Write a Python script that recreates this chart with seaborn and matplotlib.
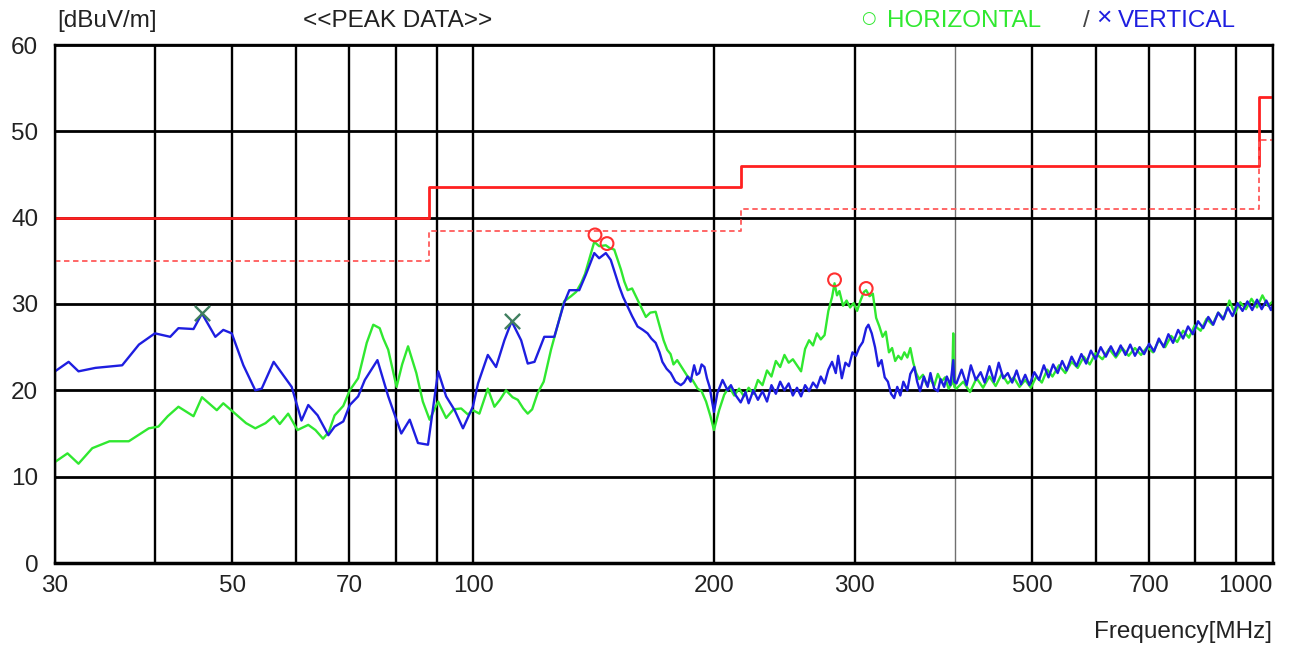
import numpy as np
import pandas as pd
import seaborn as sns
import matplotlib
matplotlib.use("Agg")
import matplotlib.pyplot as plt
from matplotlib.ticker import FixedLocator, NullLocator

# --- values ---
horiz_freq = [30, 31.1, 32.1, 33.4, 35.1, 37.1, 39.3, 40.4, 41.5, 42.8, 44.7, 45.8, 47.8, 48.7, 50.4, 52.0, 53.4, 55.0,
              56.3, 57.3, 58.7, 60.3, 62.2, 63.5, 64.9, 66.0, 67.1, 68.8, 70.1, 71.8, 73.6, 75.0, 76.4, 77.2, 78.3, 80.2,
              81.5, 82.9, 84.9, 86.5, 88.2, 90.4, 92.5, 94.5, 96.6, 98.5, 99.9, 101.8, 104.3, 106.3, 108.0, 109.9, 112.0,
              113.7, 115.5, 117.0, 118.5, 120.4, 122.5, 125.1, 127.5, 129.9, 132.5, 134.5, 136.4, 138.0, 139.6, 141.7,
              143.7, 146.5, 148.0, 150.1, 151.5, 153.0, 154.5, 156.0, 158.0, 160.5, 162.5, 164.4, 166.5, 169.1, 171.6,
              173.0, 174.8, 176.5, 178.0, 179.9, 182.5, 185.4, 188.0, 190.8, 193.0, 195.5, 198.0, 200,
              203, 206, 209, 212, 215, 218, 221, 224, 227, 230, 233, 236, 239, 242, 245, 248, 251, 254, 257, 260, 263,
              266, 269, 272, 275, 278, 281, 283, 285, 287, 290, 293, 296, 299, 302, 305, 308, 310, 313, 316, 319, 322,
              325, 328, 331, 334, 337, 340, 343, 346, 349, 352, 355, 358, 361, 365, 369, 373, 377, 381, 385, 389, 393,
              397, 398.3, 399.5,
              402, 410, 418, 426, 434, 442, 450, 458, 466, 474, 482, 490, 498, 506, 514, 522, 530, 540, 550, 560, 570,
              580, 590, 600, 612, 624, 636, 648, 660, 672, 684, 696, 708, 720, 733, 746, 759, 772, 785, 798, 812, 826,
              840, 854, 868, 882, 896, 910, 925, 940, 955, 970, 985, 1000]
horiz_level = [11.7, 12.7, 11.5, 13.3, 14.1, 14.1, 15.6, 15.8, 17.0, 18.1, 17.0, 19.2, 17.7, 18.5, 17.3, 16.2, 15.6, 16.2,
               17.0, 16.1, 17.3, 15.4, 16.0, 15.4, 14.4, 15.2, 17.1, 18.2, 20.0, 21.4, 25.5, 27.6, 27.2, 26.0, 24.7, 20.4,
               23.0, 25.1, 22.0, 18.7, 16.6, 18.7, 16.8, 17.8, 17.9, 17.2, 17.7, 17.3, 20.2, 18.1, 18.9, 20.0, 19.2,
               18.9, 17.9, 17.3, 17.8, 19.7, 21.0, 24.7, 27.5, 30.3, 30.9, 31.4, 32.4, 33.5, 35.1, 37.2,
               36.7, 36.8, 36.5, 36.3, 35.2, 34.0, 32.6, 31.6, 31.8, 30.5, 29.5, 28.5, 29.0, 29.1, 27.0,
               25.8, 24.7, 24.2, 23.0, 23.5, 22.6, 21.6, 21.2, 20.2, 19.9, 18.7, 17.0, 15.4,
               17.7, 19.5, 20.4, 19.4, 20.2, 19.3, 20.3, 19.6, 21.2, 20.6, 22.3, 21.6, 23.4, 22.7, 24.1, 23.2, 23.6, 22.9,
               22.2, 24.8, 25.8, 25.2, 26.6, 25.9, 26.4, 29.2, 30.8, 32.4, 31.0, 31.5, 29.8, 30.4, 29.6, 30.1, 29.2, 30.4,
               31.4, 31.6, 30.9, 31.2, 28.4, 27.4, 26.2, 26.8, 24.4, 24.9, 23.4, 24.0, 23.6, 24.4, 23.8, 24.9, 23.2, 22.0,
               21.3, 21.8, 20.6, 21.3, 20.5, 21.9, 21.0, 21.5, 20.2, 20.8, 26.6, 20.4,
               20.2, 21.0, 19.8, 21.4, 20.3, 21.6, 20.5, 21.9, 20.8, 21.5, 20.4, 21.2, 20.3, 21.6, 20.9, 22.4, 21.6, 22.9,
               22.0, 23.3, 22.6, 23.9, 23.0, 24.3, 23.6, 24.8, 23.8, 24.9, 24.0, 24.9, 24.1, 25.0, 24.4, 25.8, 25.0, 26.3,
               25.6, 26.9, 26.1, 27.5, 26.9, 28.3, 27.6, 29.0, 28.3, 30.4, 28.9, 30.2, 29.4, 30.6, 29.6, 31.0, 29.8, 30.3]

vert_freq = [30, 31.2, 32.1, 33.7, 36.4, 38.2, 40.0, 41.8, 42.8, 44.7, 45.8, 47.6, 48.7, 49.9, 51.6, 53.4, 54.4, 56.3,
             59.3, 61.0, 62.2, 63.9, 65.9, 67.1, 68.8, 70.1, 71.8, 73.2, 75.9, 78.3, 81.3, 83.3, 85.3, 87.8, 90.4, 92.5,
             94.8, 97.1, 99.9, 101.4, 104.3, 106.8, 109.4, 111.7, 114.8, 117.0, 119.3, 122.7, 126.3, 129.9, 131.9, 135.7,
             138.3, 141.7, 143.7, 146.5, 148.6, 152.3, 154, 156, 158, 160.5, 163, 165.2, 167, 169.1, 171, 172.4, 174.5,
             176.6, 179, 181.8, 183.5, 185.4, 187, 188.9, 190.3, 191.7, 193, 194.6, 196, 197.5, 199, 200,
             202, 205, 208, 210, 213, 216, 219, 221, 224, 227, 230, 233, 236, 239, 242, 245, 248, 251, 254, 257, 260,
             263, 266, 269, 272, 275, 278, 281, 284, 286, 289, 292, 295, 298, 301, 304, 307, 310, 312, 315, 318, 321,
             324, 327, 330, 333, 336, 339, 342, 345, 349, 352, 356, 359, 362, 366, 370, 373, 377, 381, 384, 388, 391,
             395, 398.3, 399.5,
             402, 408, 414, 419, 425, 431, 436, 442, 448, 454, 460, 466, 472, 478, 484, 490, 496, 503, 510, 517, 524,
             531, 538, 545, 552, 560, 568, 576, 584, 592, 600, 609, 618, 627, 636, 645, 654, 663, 672, 681, 690, 700,
             710, 720, 730, 740, 750, 761, 772, 783, 794, 806, 818, 830, 842, 854, 866, 878, 890, 903, 916, 929, 942,
             955, 968, 981, 994, 1000]
vert_level = [22.2, 23.3, 22.2, 22.6, 22.9, 25.3, 26.6, 26.2, 27.2, 27.1, 28.9, 26.2, 27.0, 26.6, 22.9, 20.0, 20.2, 23.3,
              20.4, 16.5, 18.3, 17.1, 14.8, 15.8, 16.4, 18.3, 19.3, 21.2, 23.5, 19.3, 15.0, 16.6, 13.9, 13.7, 22.2, 19.3,
              17.7, 15.6, 18.1, 20.8, 24.1, 22.7, 25.8, 28.0, 25.8, 23.1, 23.3, 26.2, 26.2, 30.1, 31.6, 31.6,
              33.4, 35.9, 35.3, 35.9, 35.1, 32.0, 30.8, 29.7, 28.6, 27.4, 27.0, 26.6, 26.0, 25.5, 24.4, 23.3, 22.5,
              22.0, 21.0, 20.6, 20.9, 21.6, 21.0, 22.9, 21.8, 22.0, 23.0, 22.7, 21.4, 20.4, 18.6, 17.5,
              19.7, 21.2, 20.0, 20.6, 19.4, 18.6, 19.8, 18.5, 20.0, 18.9, 19.9, 18.7, 20.6, 19.6, 21.0, 20.0, 20.8, 19.4,
              20.3, 19.3, 20.6, 19.9, 20.9, 20.3, 21.6, 20.8, 22.4, 23.3, 22.0, 24.0, 21.4, 23.2, 22.8, 24.4, 24.0, 25.0,
              25.6, 27.2, 27.6, 26.6, 25.0, 22.8, 23.5, 21.5, 21.0, 19.6, 19.1, 20.4, 19.4, 21.0, 20.0, 21.9, 22.7, 21.0,
              19.9, 21.6, 20.4, 22.0, 20.2, 19.9, 21.3, 20.4, 21.6, 20.6, 23.5, 21.0,
              20.8, 22.4, 20.6, 22.9, 21.2, 22.1, 20.9, 22.8, 21.0, 23.2, 21.4, 22.0, 20.9, 22.3, 20.7, 21.8, 20.6, 22.1,
              21.2, 22.9, 21.5, 23.0, 22.0, 23.4, 22.3, 23.9, 22.8, 24.2, 23.1, 24.6, 23.6, 25.0, 23.9, 25.1, 24.0, 25.2,
              24.1, 25.3, 24.0, 25.0, 24.2, 25.4, 24.5, 26.0, 25.0, 26.5, 25.5, 27.0, 26.0, 27.4, 26.5, 28.0, 27.2, 28.5,
              27.6, 29.0, 28.2, 29.6, 28.6, 30.1, 29.2, 30.3, 29.3, 30.5, 29.4, 30.4, 29.3, 29.9]

limit_freq = [30, 88, 216, 960, 1000]
limit_level = [40, 43.5, 46, 54, 54]
margin_level = [35, 38.5, 41, 49, 49]

peak_h_freq = [142, 147, 283, 310]
peak_h_level = [38.0, 37.0, 32.8, 31.8]
peak_v_freq = [45.8, 111.7]
peak_v_level = [28.9, 28.0]

grid_freq = [30, 40, 50, 60, 70, 80, 90, 100, 200, 300, 400, 500, 600, 700, 800, 900, 1000]
label_freq = [30, 50, 70, 100, 200, 300, 500, 700, 1000]

sns.set_style("white")
plt.rcParams["font.family"] = ["Liberation Sans", "DejaVu Sans"]

fig = plt.figure(figsize=(12.89, 6.46), dpi=100)
ax = fig.add_axes([55 / 1289, 83 / 646, 1218 / 1289, 518 / 646])
ax.set_xscale("log")

traces = pd.concat([
    pd.DataFrame({"freq": horiz_freq, "level": horiz_level, "pol": "HORIZONTAL"}),
    pd.DataFrame({"freq": vert_freq, "level": vert_level, "pol": "VERTICAL"}),
])
limits = pd.DataFrame({"freq": limit_freq, "limit": limit_level, "margin": margin_level})

sns.lineplot(data=limits, x="freq", y="limit", drawstyle="steps-post", color="#ff2020", lw=2.0, ax=ax)
sns.lineplot(data=limits, x="freq", y="margin", drawstyle="steps-post", color="#ff5a5a", lw=1.3,
             dashes=False, linestyle=(0, (3, 2)), ax=ax)
sns.lineplot(data=traces, x="freq", y="level", hue="pol", estimator=None, sort=False, lw=1.7,
             palette={"HORIZONTAL": "#30e830", "VERTICAL": "#1e1ee0"}, legend=False, ax=ax)
sns.scatterplot(x=peak_h_freq, y=peak_h_level, marker="o", s=85, facecolor="none", edgecolor="#ff3030",
                linewidth=1.5, zorder=5, ax=ax)
sns.scatterplot(x=peak_v_freq, y=peak_v_level, marker="x", s=120, color="#3f7f5f", linewidth=1.7,
                zorder=5, ax=ax)

ax.set_xlim(30, 1000)
ax.set_ylim(0, 60)
ax.xaxis.set_major_locator(FixedLocator(grid_freq))
ax.xaxis.set_minor_locator(NullLocator())
ax.set_xticklabels([str(f) if f in label_freq else "" for f in grid_freq])
ax.set_yticks(range(0, 61, 10))
ax.tick_params(length=0, labelsize=17.5, colors="#222222")
ax.tick_params(axis="x", pad=9)
ax.tick_params(axis="y", pad=12)
for lbl in ax.get_xticklabels():
    if lbl.get_text() == "1000":
        lbl.set_horizontalalignment("right")

ax.grid(True, axis="y", color="black", lw=2.0)
ax.grid(True, axis="x", color="black", lw=1.7)
for f, gl in zip(grid_freq, ax.get_xgridlines()):
    if f == 400:
        gl.set_color("#707070")
        gl.set_linewidth(1.0)
ax.set_axisbelow(True)
for side in ["top", "left", "right"]:
    ax.spines[side].set_color("black")
    ax.spines[side].set_linewidth(1.7)
ax.spines["bottom"].set_color("black")
ax.spines["bottom"].set_linewidth(2.5)
ax.set_xlabel("")
ax.set_ylabel("")

fs = 17.5
ty = 1 - 21 / 646
fig.text(57 / 1289, ty, "[dBuV/m]", fontsize=fs, va="center", ha="left", color="#222222")
fig.text(398 / 1289, ty, "<<PEAK DATA>>", fontsize=fs, va="center", ha="center", color="#222222")
fig.text(868 / 1289, 1 - 18 / 646, "\u25cb", fontsize=12, va="center", ha="center", color="#30e830",
         family="DejaVu Sans")
fig.text(887 / 1289, ty, "HORIZONTAL", fontsize=fs, va="center", ha="left", color="#30e830")
fig.text(1086 / 1289, ty, "/", fontsize=fs, va="center", ha="center", color="#444444")
fig.text(1104 / 1289, 1 - 18 / 646, "\u00d7", fontsize=19, va="center", ha="center", color="#1e1ee0")
fig.text(1118 / 1289, ty, "VERTICAL", fontsize=fs, va="center", ha="left", color="#1e1ee0")
fig.text(1272 / 1289, 1 - 632 / 646, "Frequency[MHz]", fontsize=fs, va="center", ha="right", color="#222222")

fig.savefig("out.png", dpi=100)
